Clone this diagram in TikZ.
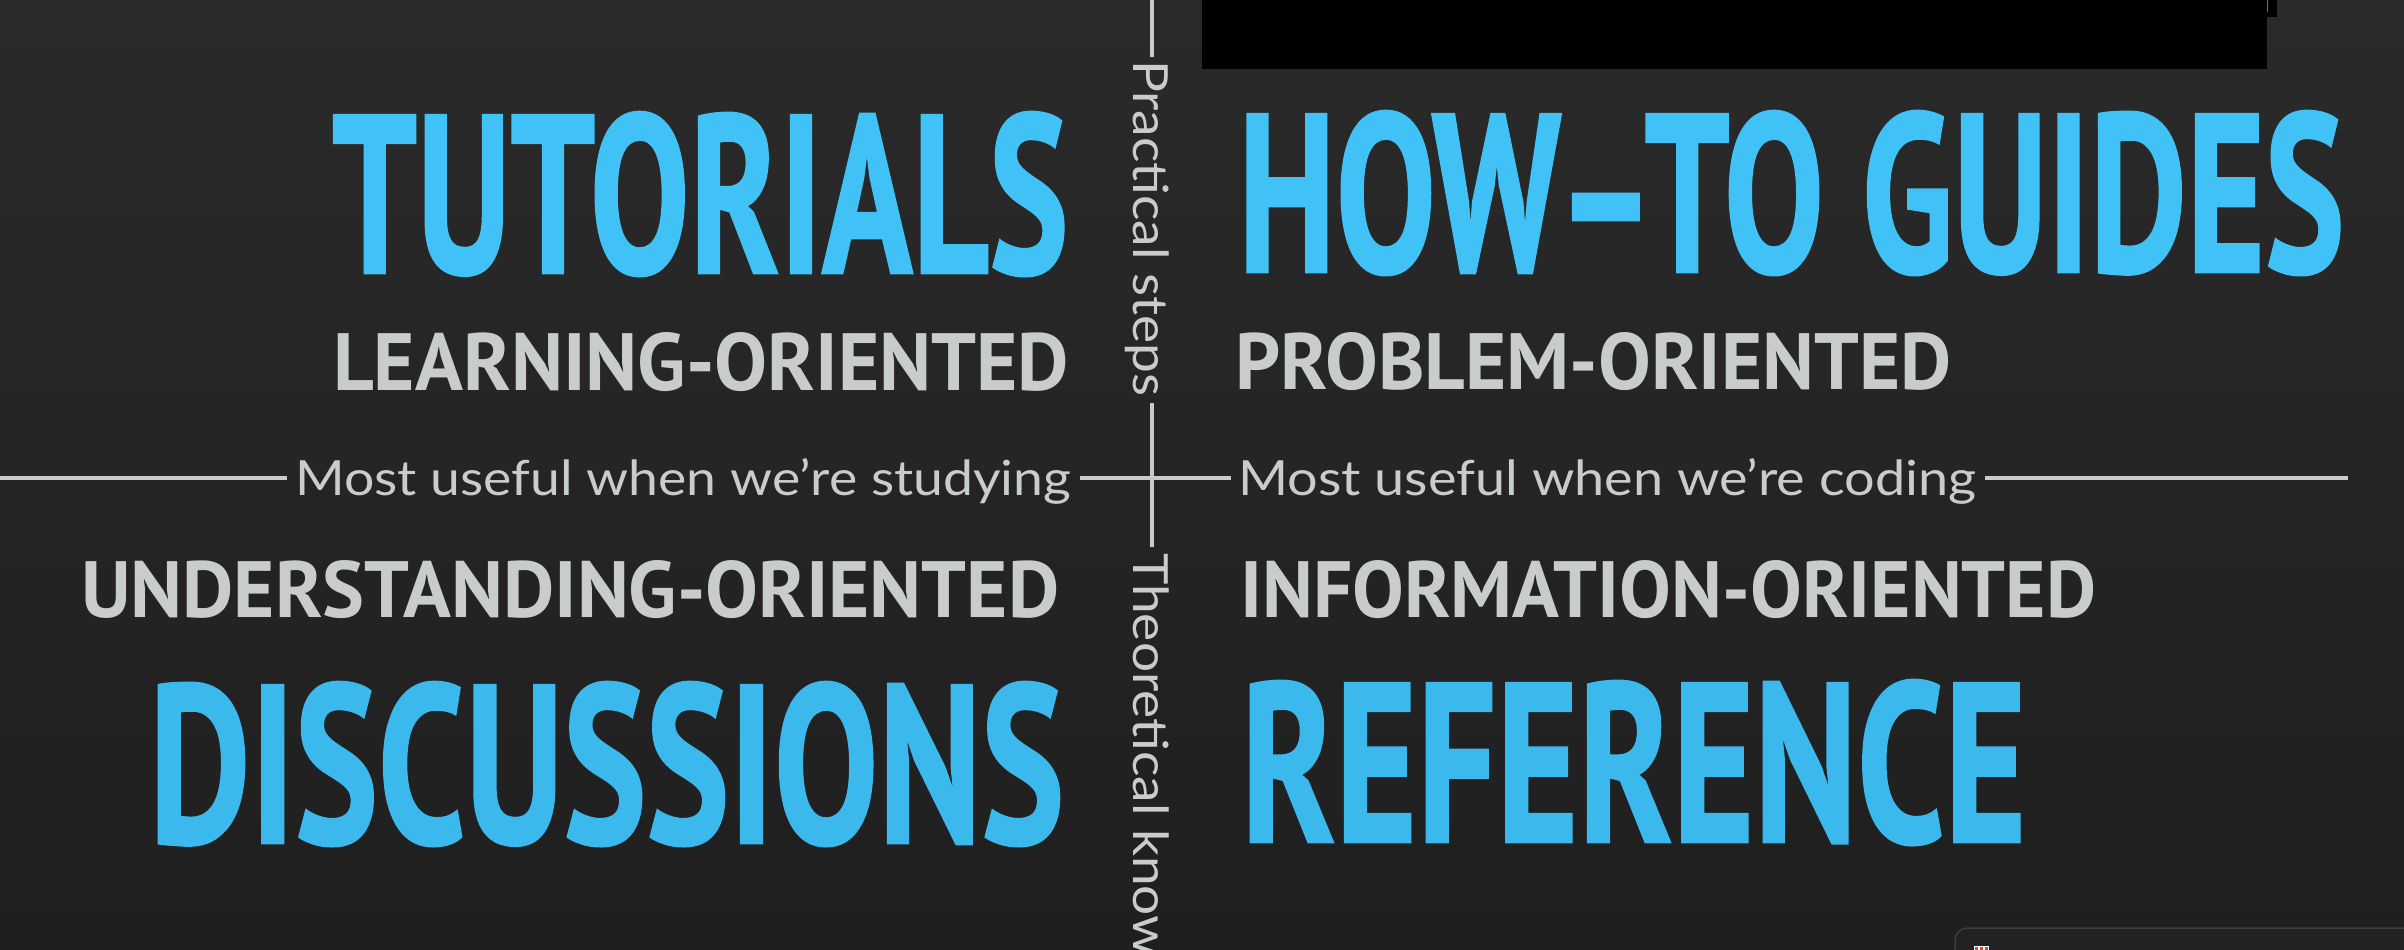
\documentclass[tikz,border=0pt]{standalone}
\usepackage{fontspec}
\usepackage{graphicx}
\usetikzlibrary{calc}

% Faces: condensed bold heads, medium tags, light notes
\newfontfamily\headfont{PT Sans}[BoldFeatures={FakeBold=1.2}]
\newfontfamily\tagfont{PT Sans}
\newfontfamily\notefont{Lato}

\definecolor{bgtop}{HTML}{2A2A2A}
\definecolor{bgbot}{HTML}{1F1F1F}
\definecolor{skyblue}{HTML}{40C2F6}
\definecolor{skybluedeep}{HTML}{3BB8EC}
\definecolor{ash}{HTML}{C8CCCC}
\definecolor{panelfill}{HTML}{222222}
\definecolor{panelline}{HTML}{3C3C3C}
\definecolor{markred}{HTML}{E8402A}

% squeeze a text into a box of given width and height (pt)
\newcommand\fitto[3]{\resizebox{#1pt}{#2pt}{#3}}
% squeeze a text to a given width, keeping its height
\newcommand\fitwide[2]{\resizebox{#1pt}{\height}{#2}}
\newsavebox\probebox
\newlength\probelen

\tikzset{
  quadtitle/.style={inner sep=0pt, anchor=base west, text=skyblue,
    font=\headfont\bfseries\fontsize{100}{100}\selectfont},
  quadtag/.style={inner sep=0pt, anchor=base west, text=ash,
    font=\tagfont\bfseries\fontsize{60}{60}\selectfont},
  axisnote/.style={inner sep=0pt, anchor=base west, text=ash,
    font=\notefont\fontsize{48.5}{50}\selectfont},
  rule/.style={draw=ash, line width=4pt},
}

\begin{document}
% width of the vertical note sets the stretch for both vertical notes
\sbox\probebox{\notefont\fontsize{48.5}{50}\selectfont Practical steps}%
\setlength\probelen{\wd\probebox}%
\pgfmathsetmacro\vstretch{336/\probelen}%
\begin{tikzpicture}[x=1pt,y=-1pt]
  \useasboundingbox (0,0) rectangle (2404,950);
  \clip (0,0) rectangle (2404,950);
  \shade[top color=bgtop, bottom color=bgbot] (0,0) rectangle (2404,950);

  % black bar across the top right
  \fill[black] (1202,0) rectangle (2267,69);
  \fill[black] (2267,0) rectangle (2277,17);
  \draw[markred, line width=1.5pt] (2267.5,0) -- (2267.5,12);

  % panel peeking in at the bottom right
  \draw[fill=panelfill, draw=panelline, line width=1.5pt, rounded corners=12pt]
    (1955,928) rectangle (2460,1000);
  \fill[white] (1974,946) rectangle (1989,951);
  \fill[markred] (1975,947) rectangle (1978,951);
  \fill[markred] (1980,947) rectangle (1983,951);
  \fill[markred] (1985,947) rectangle (1988,951);

  % quadrant headings
  \node[quadtitle] (tut) at (332,273) {\fitto{736}{161}{TUTORIALS}};
  \node[quadtitle] (how) at (1238,272) {\fitto{1106}{161}{HOW–TO GUIDES}};
  \node[quadtitle, text=skybluedeep] (disc) at (149,843) {\fitto{915}{161}{DISCUSSIONS}};
  \node[quadtitle, text=skybluedeep] (ref) at (1241,842) {\fitto{785}{162}{REFERENCE}};

  % orientation tags
  \node[quadtag] (learn) at (333,390) {\fitto{736}{58}{LEARNING-ORIENTED}};
  \node[quadtag] (prob) at (1235,389) {\fitto{716}{57}{PROBLEM-ORIENTED}};
  \node[quadtag] (under) at (81,617) {\fitto{978}{57}{UNDERSTANDING-ORIENTED}};
  \node[quadtag] (info) at (1240,617) {\fitto{856}{57}{INFORMATION-ORIENTED}};

  % axis notes
  \node[axisnote] (study) at (295,495) {\fitwide{776}{Most useful when we’re studying}};
  \node[axisnote] (code) at (1238,495) {\fitwide{738}{Most useful when we’re coding}};
  \node[axisnote, rotate=-90] (prac) at (1133,60)
    {\scalebox{\vstretch}[1]{Practical steps}};
  \node[axisnote, rotate=-90] (theo) at (1133,553)
    {\scalebox{\vstretch}[1]{Theoretical know}};

  % axes
  \coordinate (cross) at (1152,478);
  \coordinate (hleft) at (0,478);
  \coordinate (hright) at (2348,478);
  \coordinate (vtop) at (1152,0);
  \draw[rule, shorten >=8pt] (hleft) -- (study.west |- cross);
  \draw[rule, shorten <=9pt, shorten >=7pt] (study.east |- cross) -- (code.west |- cross);
  \draw[rule, shorten <=9pt] (code.east |- cross) -- (hright);
  \draw[rule, shorten >=3pt] (vtop) -- (prac.west -| cross);
  \draw[rule, shorten <=7pt, shorten >=6pt] (prac.east -| cross) -- (theo.west -| cross);
\end{tikzpicture}
\end{document}
